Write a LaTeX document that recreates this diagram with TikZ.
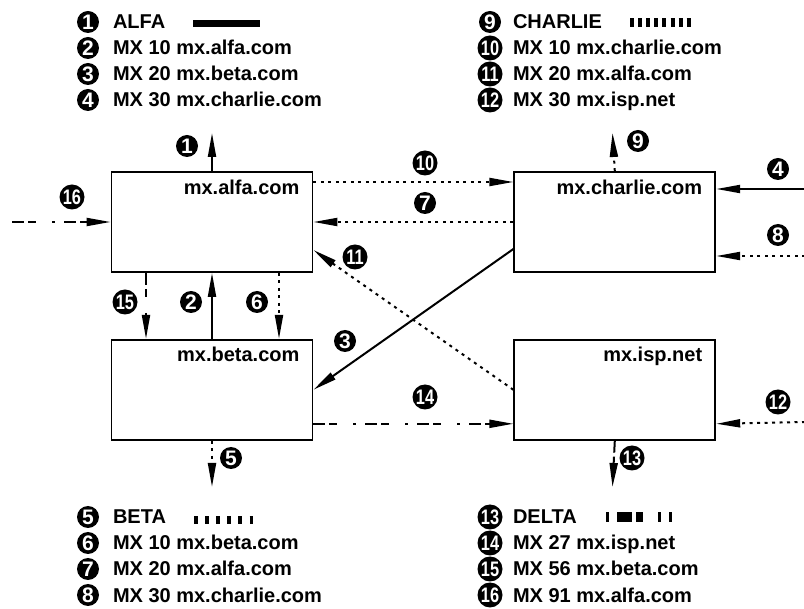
\documentclass[tikz,border=0pt]{standalone}
\usepackage{fontspec}
\setmainfont{Liberation Sans}
\usepackage{graphicx}
\usetikzlibrary{arrows.meta,positioning}

\newcommand{\numtext}[1]{\ifnum#1>9 \scalebox{0.78}[1]{#1}\else#1\fi}

\begin{document}
\begin{tikzpicture}[x=1pt, y=-1pt, line width=2pt,
  every node/.style={font=\bfseries\fontsize{20}{24}\selectfont},
  server/.style={draw, line width=1.8pt, minimum width=201pt, minimum height=100pt, inner sep=0pt},
  srvname/.style={anchor=base east, inner sep=0pt},
  num/.style={circle, fill=black, text=white, inner sep=0pt, minimum size=22pt+3pt*(\n>9), font=\bfseries\fontsize{21}{21}\selectfont},
  legtext/.style={anchor=base west, inner sep=0pt},
  arr/.style={-{Triangle[length=24pt,width=8pt]}},
  ldotted/.style={dash pattern=on 3pt off 4.5pt},
  ldashdot/.style={dash pattern=on 12pt off 4pt on 8pt off 16pt on 3pt off 9pt}]
  \useasboundingbox (0,0) rectangle (804,609);
  % the four mail servers
  \node[server] (alfa) at (212,222) {};
  \node[server, below=66pt of alfa] (beta) {};
  \node[server, right=200pt of alfa] (charlie) {};
  \node[server, below=66pt of charlie] (isp) {};
  \node[srvname] (nalfa) at ([xshift=-13pt,yshift=-23pt]alfa.north east) {mx.alfa.com};
  \node[srvname] (nbeta) at ([xshift=-13pt,yshift=-23pt]beta.north east) {mx.beta.com};
  \node[srvname] (ncharlie) at ([xshift=-13pt,yshift=-23pt]charlie.north east) {mx.charlie.com};
  \node[srvname] (nisp) at ([xshift=-13pt,yshift=-23pt]isp.north east) {mx.isp.net};
  % free ends of the outer arrows
  \coordinate (o1) at (212,133);
  \coordinate (o9) at (612.5,133);
  \coordinate (o5) at (212,487);
  \coordinate (o13) at (612.5,487);
  \coordinate (i4) at (805,189);
  \coordinate (i8) at (805,256);
  \coordinate (i12) at (805,422);
  \coordinate (i16) at (12,222);
  % ALFA (solid)
  \draw[arr] (alfa.north) -- (o1);
  \draw[arr] (beta.north) -- (alfa.south);
  \draw[arr] ([yshift=-27pt]charlie.west) -- (beta.east);
  \draw[arr] (i4) -- ([yshift=33pt]charlie.east);
  % BETA and CHARLIE (dotted)
  \draw[arr,ldotted] (beta.south) -- (o5);
  \draw[arr,ldotted] ([xshift=67pt]alfa.south) -- ([xshift=67pt]beta.north);
  \draw[arr,ldotted] (charlie.west) -- (alfa.east);
  \draw[arr,ldotted] (i8) -- ([yshift=-34pt]charlie.east);
  \draw[arr,ldotted] (charlie.north) -- (o9);
  \draw[arr,ldotted] ([yshift=40pt]alfa.east) -- ([yshift=40pt]charlie.west);
  \draw[arr,ldotted] (isp.west) -- ([yshift=-28pt]alfa.east);
  \draw[arr,ldotted] (i12) -- ([yshift=-34pt]isp.east);
  % DELTA (dash dot)
  \draw[arr,ldashdot] (isp.south) -- (o13);
  \draw[arr,ldashdot] ([yshift=-34pt]beta.east) -- ([yshift=-34pt]isp.west);
  \draw[arr,ldashdot] ([xshift=-66pt]alfa.south) -- ([xshift=-66pt]beta.north);
  \draw[arr,ldashdot] (i16) -- (alfa.west);
  % numbers on the arrows
  \foreach \n/\x/\y in {1/187/146, 2/191/302, 3/345/341, 4/778/169, 5/231/458,
      6/257/302, 7/425/203, 8/778/235, 9/638/141, 10/425/163, 11/355/257,
      12/778/402, 13/632/458, 14/425/397, 15/125/302, 16/72/197}
    \node[num] (c\n) at (\x,\y) {\numtext{\n}};
  % legends
  \foreach \n/\t [count=\r from 0] in {1/ALFA, 2/MX 10 mx.alfa.com, 3/MX 20 mx.beta.com, 4/MX 30 mx.charlie.com} {
    \node[num] (l\n) at (88,22+26*\r) {\numtext{\n}};
    \node[legtext] (t\n) at (112,29+26*\r) {\t};
  }
  \foreach \n/\t [count=\r from 0] in {9/CHARLIE, 10/MX 10 mx.charlie.com, 11/MX 20 mx.alfa.com, 12/MX 30 mx.isp.net} {
    \node[num] (l\n) at (490,22+26*\r) {\numtext{\n}};
    \node[legtext] (t\n) at (512,29+26*\r) {\t};
  }
  \foreach \n/\t [count=\r from 0] in {5/BETA, 6/MX 10 mx.beta.com, 7/MX 20 mx.alfa.com, 8/MX 30 mx.charlie.com} {
    \node[num] (l\n) at (88,517+26*\r) {\numtext{\n}};
    \node[legtext] (t\n) at (112,524+26*\r) {\t};
  }
  \foreach \n/\t [count=\r from 0] in {13/DELTA, 14/MX 27 mx.isp.net, 15/MX 56 mx.beta.com, 16/MX 91 mx.alfa.com} {
    \node[num] (l\n) at (490,517+26*\r) {\numtext{\n}};
    \node[legtext] (t\n) at (512,524+26*\r) {\t};
  }
  % line samples
  \draw[line width=7pt] (193,24) -- (260,24);
  \draw[line width=9pt, dash pattern=on 4pt off 4.1pt] (630,23) -- (691,23);
  \draw[line width=8pt, dash pattern=on 3.5pt off 7.6pt] (194,520) -- (253,520);
  \draw[line width=10pt, dash pattern=on 3pt off 8pt on 15pt off 4pt on 7pt off 15pt on 3pt off 8pt on 3pt off 50pt] (606,517) -- (672,517);
\end{tikzpicture}
\end{document}
